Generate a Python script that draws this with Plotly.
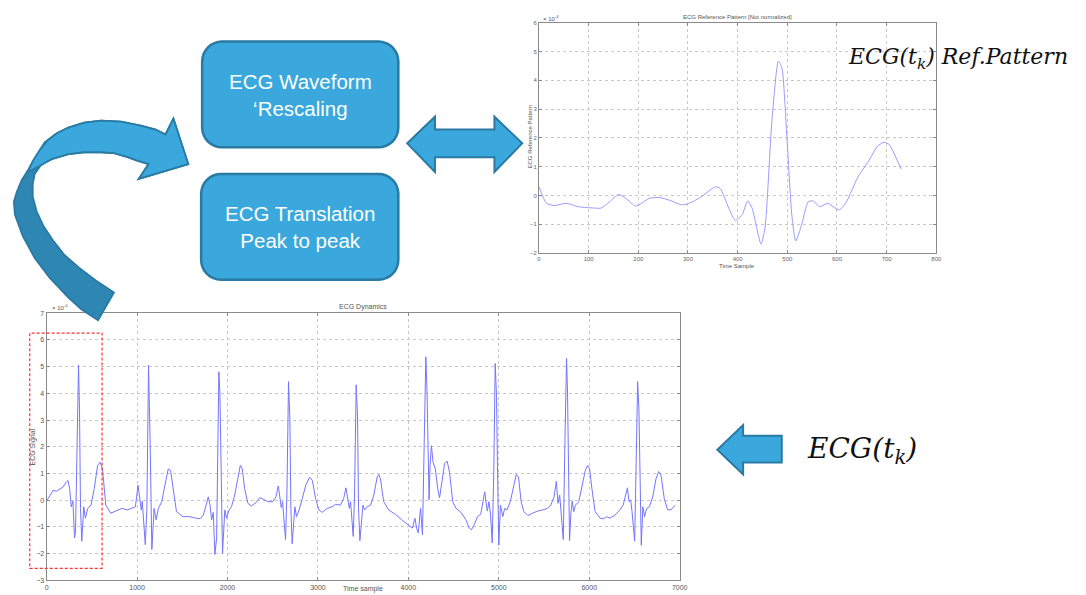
import math
import plotly.graph_objects as go

W, H = 1086, 595

# ---------------- data (values in units of 1e-4) ----------------
ref_t = [0, 15, 32, 55, 79, 115, 125, 142, 160, 175, 195, 222, 242, 262, 289, 309, 329, 355, 365,
         382, 395, 409, 420, 429, 447, 455, 469, 482, 489, 499, 509, 517, 529, 542, 552, 565, 582,
         592, 605, 619, 642, 662, 682, 695, 705, 729]
ref_v = [0.3, -0.27, -0.35, -0.27, -0.39, -0.44, -0.44, -0.22, 0.03, -0.1, -0.37, -0.1, -0.07, -0.16,
         -0.33, -0.22, -0.02, 0.3, 0.24, -0.44, -0.86, -0.67, -0.19, -0.44, -1.69, -1.13, 2.6, 4.67,
         4.44, 2.06, -0.67, -1.58, -1.01, -0.22, -0.19, -0.39, -0.27, -0.39, -0.5, -0.22, 0.64, 1.15,
         1.72, 1.85, 1.77, 0.92]

dyn_t = [0, 36, 73, 109, 145, 182, 218, 236, 255, 273, 291, 309, 320, 338, 353, 364, 375, 389, 411,
         429, 455, 491, 527, 564, 593, 618, 655, 709, 782, 836, 891, 945, 982, 1011, 1036, 1047, 1058,
         1091, 1109, 1127, 1145, 1164, 1189, 1211, 1236, 1273, 1309, 1345, 1371, 1400, 1436, 1509,
         1582, 1655, 1697, 1734, 1763, 1788, 1807, 1825, 1843, 1861, 1880, 1891, 1905, 1916, 1927,
         1945, 1971, 1989, 2018, 2044, 2080, 2117, 2142, 2164, 2190, 2226, 2263, 2318, 2354, 2391,
         2445, 2500, 2536, 2562, 2580, 2595, 2609, 2628, 2642, 2657, 2675, 2690, 2701, 2715, 2730,
         2745, 2763, 2792, 2828, 2865, 2909, 2938, 2974, 3011, 3047, 3102, 3157, 3193, 3248, 3285,
         3310, 3328, 3347, 3361, 3376, 3390, 3405, 3423, 3438, 3449, 3464, 3478, 3498, 3516, 3545,
         3582, 3618, 3655, 3673, 3691, 3727, 3782, 3855, 3927, 4000, 4044, 4073, 4091, 4109, 4135,
         4156, 4175, 4193, 4207, 4218, 4229, 4240, 4255, 4273, 4298, 4327, 4345, 4371, 4400, 4429,
         4455, 4491, 4527, 4582, 4636, 4673, 4698, 4727, 4764, 4800, 4829, 4844, 4858, 4873, 4891,
         4909, 4927, 4945, 4960, 4975, 4985, 5000, 5018, 5044, 5065, 5091, 5127, 5164, 5193, 5218,
         5247, 5276, 5320, 5375, 5429, 5484, 5538, 5575, 5611, 5636, 5655, 5673, 5687, 5702, 5713,
         5731, 5749, 5760, 5771, 5782, 5796, 5811, 5829, 5847, 5884, 5920, 5956, 5982, 6004, 6029,
         6065, 6120, 6156, 6193, 6229, 6284, 6338, 6375, 6404, 6422, 6440, 6458, 6473, 6484, 6502,
         6516, 6535, 6549, 6560, 6575, 6593, 6611, 6636, 6665, 6702, 6738, 6767, 6793, 6829, 6865,
         6902, 6949]
dyn_v = [-0.04, 0.19, 0.37, 0.33, 0.41, 0.49, 0.68, 0.74, 0.43, -0.25, -0.04, -1.42, -1.17, 2.16, 5.06,
         3.4, -0.31, -1.54, -0.25, -0.68, -0.31, -0.19, 0.43, 1.30, 1.42, 1.17, -0.19, -0.49, -0.37,
         -0.31, -0.37, -0.31, -0.25, 0.56, 0.0, -0.37, -0.04, -1.67, -0.31, 5.06, 2.16, -1.85, -0.31,
         -0.74, -0.31, -0.06, 0.56, 1.17, 1.11, 0.43, -0.43, -0.62, -0.62, -0.68, -0.70, -0.56, -0.19,
         0.12, -0.19, -0.74, -0.46, -2.04, -1.42, 0.93, 4.81, 4.01, 0.93, -1.98, -0.37, -0.68, -0.37,
         -0.25, 0.19, 0.93, 1.30, 1.17, 0.43, -0.12, -0.22, -0.09, 0.09, 0.04, -0.06, -0.06, 0.12,
         0.53, -0.06, -0.28, -0.06, -0.80, -1.48, 0.19, 4.44, 3.02, -0.31, -1.64, -0.80, -0.25, -0.62,
         -0.37, 0.06, 0.56, 0.86, 0.74, 0.06, -0.37, -0.46, -0.31, -0.25, -0.16, -0.19, 0.06, 0.46,
         0.06, -0.31, -0.06, -0.80, -1.36, 0.19, 4.32, 3.15, -0.31, -1.52, -0.80, -0.19, -0.37, -0.25,
         -0.19, 0.19, 0.86, 0.96, 0.80, -0.06, -0.37, -0.53, -0.74, -0.93, -1.05, -0.68, -1.05, -1.23,
         -0.31, -1.30, 1.79, 5.37, 4.01, 1.54, 0.0, 1.30, 2.04, 1.42, 1.17, 0.37, 0.09, 0.68, 1.36,
         1.46, 1.05, -0.06, -0.31, -0.46, -0.74, -1.05, -1.11, -0.93, -0.62, -0.53, 0.06, 0.31, -0.06,
         -0.41, -0.06, -0.56, -1.60, 1.17, 5.12, 3.89, 1.30, -1.69, -0.19, -0.62, -0.31, -0.37, -0.06,
         0.56, 0.96, 0.86, -0.06, -0.43, -0.58, -0.49, -0.41, -0.37, -0.31, -0.19, 0.12, 0.70, -0.12,
         0.19, -0.37, -0.80, -1.48, 2.16, 5.31, 4.01, 1.54, -1.52, -0.56, -0.04, -0.43, -0.19, -0.06,
         0.49, 1.11, 1.30, 1.17, 0.43, -0.43, -0.68, -0.70, -0.62, -0.68, -0.56, -0.37, -0.19, 0.19,
         0.46, -0.06, 0.0, -0.43, -0.80, -1.54, 0.93, 4.44, 3.40, 1.54, -1.69, -0.25, -0.62, -0.31,
         -0.25, 0.12, 0.80, 1.07, 0.93, 0.06, -0.35, -0.37, -0.19]

ref_xticks = [0, 100, 200, 300, 400, 500, 600, 700, 800]
ref_yticks = [-2, -1, 0, 1, 2, 3, 4, 5, 6]
dyn_xticks = [0, 1000, 2000, 3000, 4000, 5000, 6000, 7000]
dyn_yticks = [-3, -2, -1, 0, 1, 2, 3, 4, 5, 6, 7]

box_texts = ["ECG Waveform<br>‘Rescaling", "ECG Translation<br>Peak to peak"]


# ---------------- helpers ----------------
def px(x, y):
    return x / W, 1 - y / H


def poly(points):
    s = ""
    for i, (x, y) in enumerate(points):
        a, b = px(x, y)
        s += ("M" if i == 0 else "L") + f"{a:.5f},{b:.5f} "
    return s + "Z"


def rounded_rect(x0, y0, x1, y1, r):
    pts = []
    corners = [(x1 - r, y0 + r, -90, 0), (x1 - r, y1 - r, 0, 90),
               (x0 + r, y1 - r, 90, 180), (x0 + r, y0 + r, 180, 270)]
    for cx, cy, a0, a1 in corners:
        for k in range(9):
            a = math.radians(a0 + (a1 - a0) * k / 8)
            pts.append((cx + r * math.cos(a), cy + r * math.sin(a)))
    return poly(pts)


fig = go.Figure()
fig.add_trace(go.Scatter(x=ref_t, y=ref_v, mode="lines", xaxis="x", yaxis="y",
                         line=dict(color="#9a9aff", width=1, shape="spline", smoothing=0.6),
                         showlegend=False, hoverinfo="skip"))
fig.add_trace(go.Scatter(x=dyn_t, y=dyn_v, mode="lines", xaxis="x2", yaxis="y2",
                         line=dict(color="#7474ff", width=1), showlegend=False, hoverinfo="skip"))

axis_common = dict(showline=True, mirror="ticks", linecolor="#8a8a8a", linewidth=1,
                   ticks="inside", ticklen=3, tickcolor="#8a8a8a", showgrid=True,
                   gridcolor="#c8c8c8", griddash="dot", gridwidth=1, zeroline=False)
small_font = dict(family="Liberation Sans", color="#666", size=6)
mid_font = dict(family="Liberation Sans", color="#555", size=7)

fig.update_layout(
    width=W, height=H, margin=dict(l=0, r=0, t=0, b=0),
    paper_bgcolor="white", plot_bgcolor="white", showlegend=False,
    xaxis=dict(domain=[542 / W, 943 / W], range=[0, 800], tickvals=ref_xticks, anchor="y",
               tickfont=small_font, **axis_common),
    yaxis=dict(domain=[1 - 252 / H, 1 - 19 / H], range=[-2, 6], tickvals=ref_yticks, anchor="x",
               tickfont=small_font, **axis_common),
    xaxis2=dict(domain=[45 / W, 684 / W], range=[0, 7000], tickvals=dyn_xticks, anchor="y2",
                tickfont=mid_font, **axis_common),
    yaxis2=dict(domain=[1 - 583 / H, 1 - 313 / H], range=[-3, 7], tickvals=dyn_yticks, anchor="x2",
                tickfont=mid_font, **axis_common),
)

ann = []


def text(x, y, s, size, color="#444", family="Liberation Sans", xanchor="center", angle=0):
    a, b = px(x, y)
    ann.append(dict(x=a, y=b, xref="paper", yref="paper", text=s, showarrow=False,
                    font=dict(size=size, color=color, family=family), xanchor=xanchor,
                    yanchor="middle", textangle=angle))


# chart labels
text(742, 13, "ECG Reference Pattern [Not normalized]", 6, "#555")
text(742, 265, "Time Sample", 6, "#555")
text(533, 135, "ECG Reference Pattern", 6, "#555", angle=-90)
text(544, 14, "× 10<sup>-4</sup>", 6, "#555", xanchor="left")
text(364, 307, "ECG Dynamics", 7, "#555")
text(364, 592, "Time sample", 7, "#555")
text(31, 448, "ECG Signal", 7, "#555", angle=-90)
text(48, 307, "× 10<sup>-4</sup>", 6, "#555", xanchor="left")

# box texts
text(301, 92, box_texts[0], 20.5, "white")
text(301, 226, box_texts[1], 20.5, "white")

# math labels
text(852, 55, "<i>ECG(t<sub>k</sub>) Ref.Pattern</i>", 22, "#111", family="DejaVu Serif",
     xanchor="left")
text(810, 452, "<i>ECG(t<sub>k</sub>)</i>", 28, "#111", family="DejaVu Serif", xanchor="left")

fig.update_layout(annotations=ann)

shapes = []
LIGHT, DARK, EDGE = "#3aa8dc", "#2e86b3", "#2a7aa3"

# rounded boxes
shapes.append(dict(type="path", xref="paper", yref="paper", path=rounded_rect(202, 38, 400, 145, 20),
                   fillcolor=LIGHT, line=dict(color=EDGE, width=2.5), layer="above"))
shapes.append(dict(type="path", xref="paper", yref="paper", path=rounded_rect(201, 172, 400, 279, 20),
                   fillcolor=LIGHT, line=dict(color=EDGE, width=2.5), layer="above"))

# double arrow
shapes.append(dict(type="path", xref="paper", yref="paper",
                   path=poly([(409, 141), (437, 114), (437, 127), (497, 127), (497, 114), (525, 141),
                              (497, 170), (497, 155), (437, 155), (437, 170)]),
                   fillcolor=LIGHT, line=dict(color=EDGE, width=2), layer="above"))
# left arrow
shapes.append(dict(type="path", xref="paper", yref="paper",
                   path=poly([(722, 451), (748, 426), (748, 437), (787, 437), (787, 464), (748, 464),
                              (748, 476)]),
                   fillcolor=LIGHT, line=dict(color=EDGE, width=2), layer="above"))

# curved arrow (full, dark)
curve_full = [(97, 320), (80, 309), (67, 297), (48, 277), (33, 257), (21, 235), (13, 213), (12, 200),
              (15, 190), (20, 178), (27, 167), (35, 153), (43, 140), (55, 131), (67, 125), (83, 120),
              (100, 118), (120, 119), (140, 123), (155, 127), (165, 132), (173, 116), (188, 162),
              (138, 177), (148, 162), (135, 158), (127, 155), (113, 151), (100, 150), (83, 150),
              (67, 152), (50, 157), (40, 162), (33, 172), (31, 182), (31, 195), (35, 210), (42, 225),
              (52, 240), (63, 254), (78, 267), (95, 280), (113, 292)]
shapes.append(dict(type="path", xref="paper", yref="paper", path=poly(curve_full),
                   fillcolor=DARK, line=dict(color=EDGE, width=1.8), layer="above"))
curve_light = [(26, 170), (31, 159), (38, 148), (46, 138), (55, 131), (67, 125), (83, 120), (100, 118),
               (120, 119), (140, 123), (155, 127), (165, 132), (173, 116), (188, 162), (138, 177),
               (148, 162), (135, 158), (127, 155), (113, 151), (100, 150), (83, 150), (67, 152),
               (50, 157), (38, 164)]
shapes.append(dict(type="path", xref="paper", yref="paper", path=poly(curve_light),
                   fillcolor=LIGHT, line=dict(color=EDGE, width=1.8), layer="above"))

# red dashed selection box
a0, b0 = px(28, 333)
a1, b1 = px(101, 571)
shapes.append(dict(type="rect", xref="paper", yref="paper", x0=a0, y0=b1, x1=a1, y1=b0,
                   line=dict(color="#ff3030", width=1.2, dash="3px,2px"), fillcolor="rgba(0,0,0,0)",
                   layer="above"))

fig.update_layout(shapes=shapes)
fig.write_html(
    "out.html",
    config={"displayModeBar": False},
    post_script=("document.documentElement.style.margin='0';"
                 "document.body.style.margin='0';"
                 "document.body.style.overflow='hidden';"
                 "document.documentElement.style.overflow='hidden';"
                 "document.body.style.height='595px';"),
)
